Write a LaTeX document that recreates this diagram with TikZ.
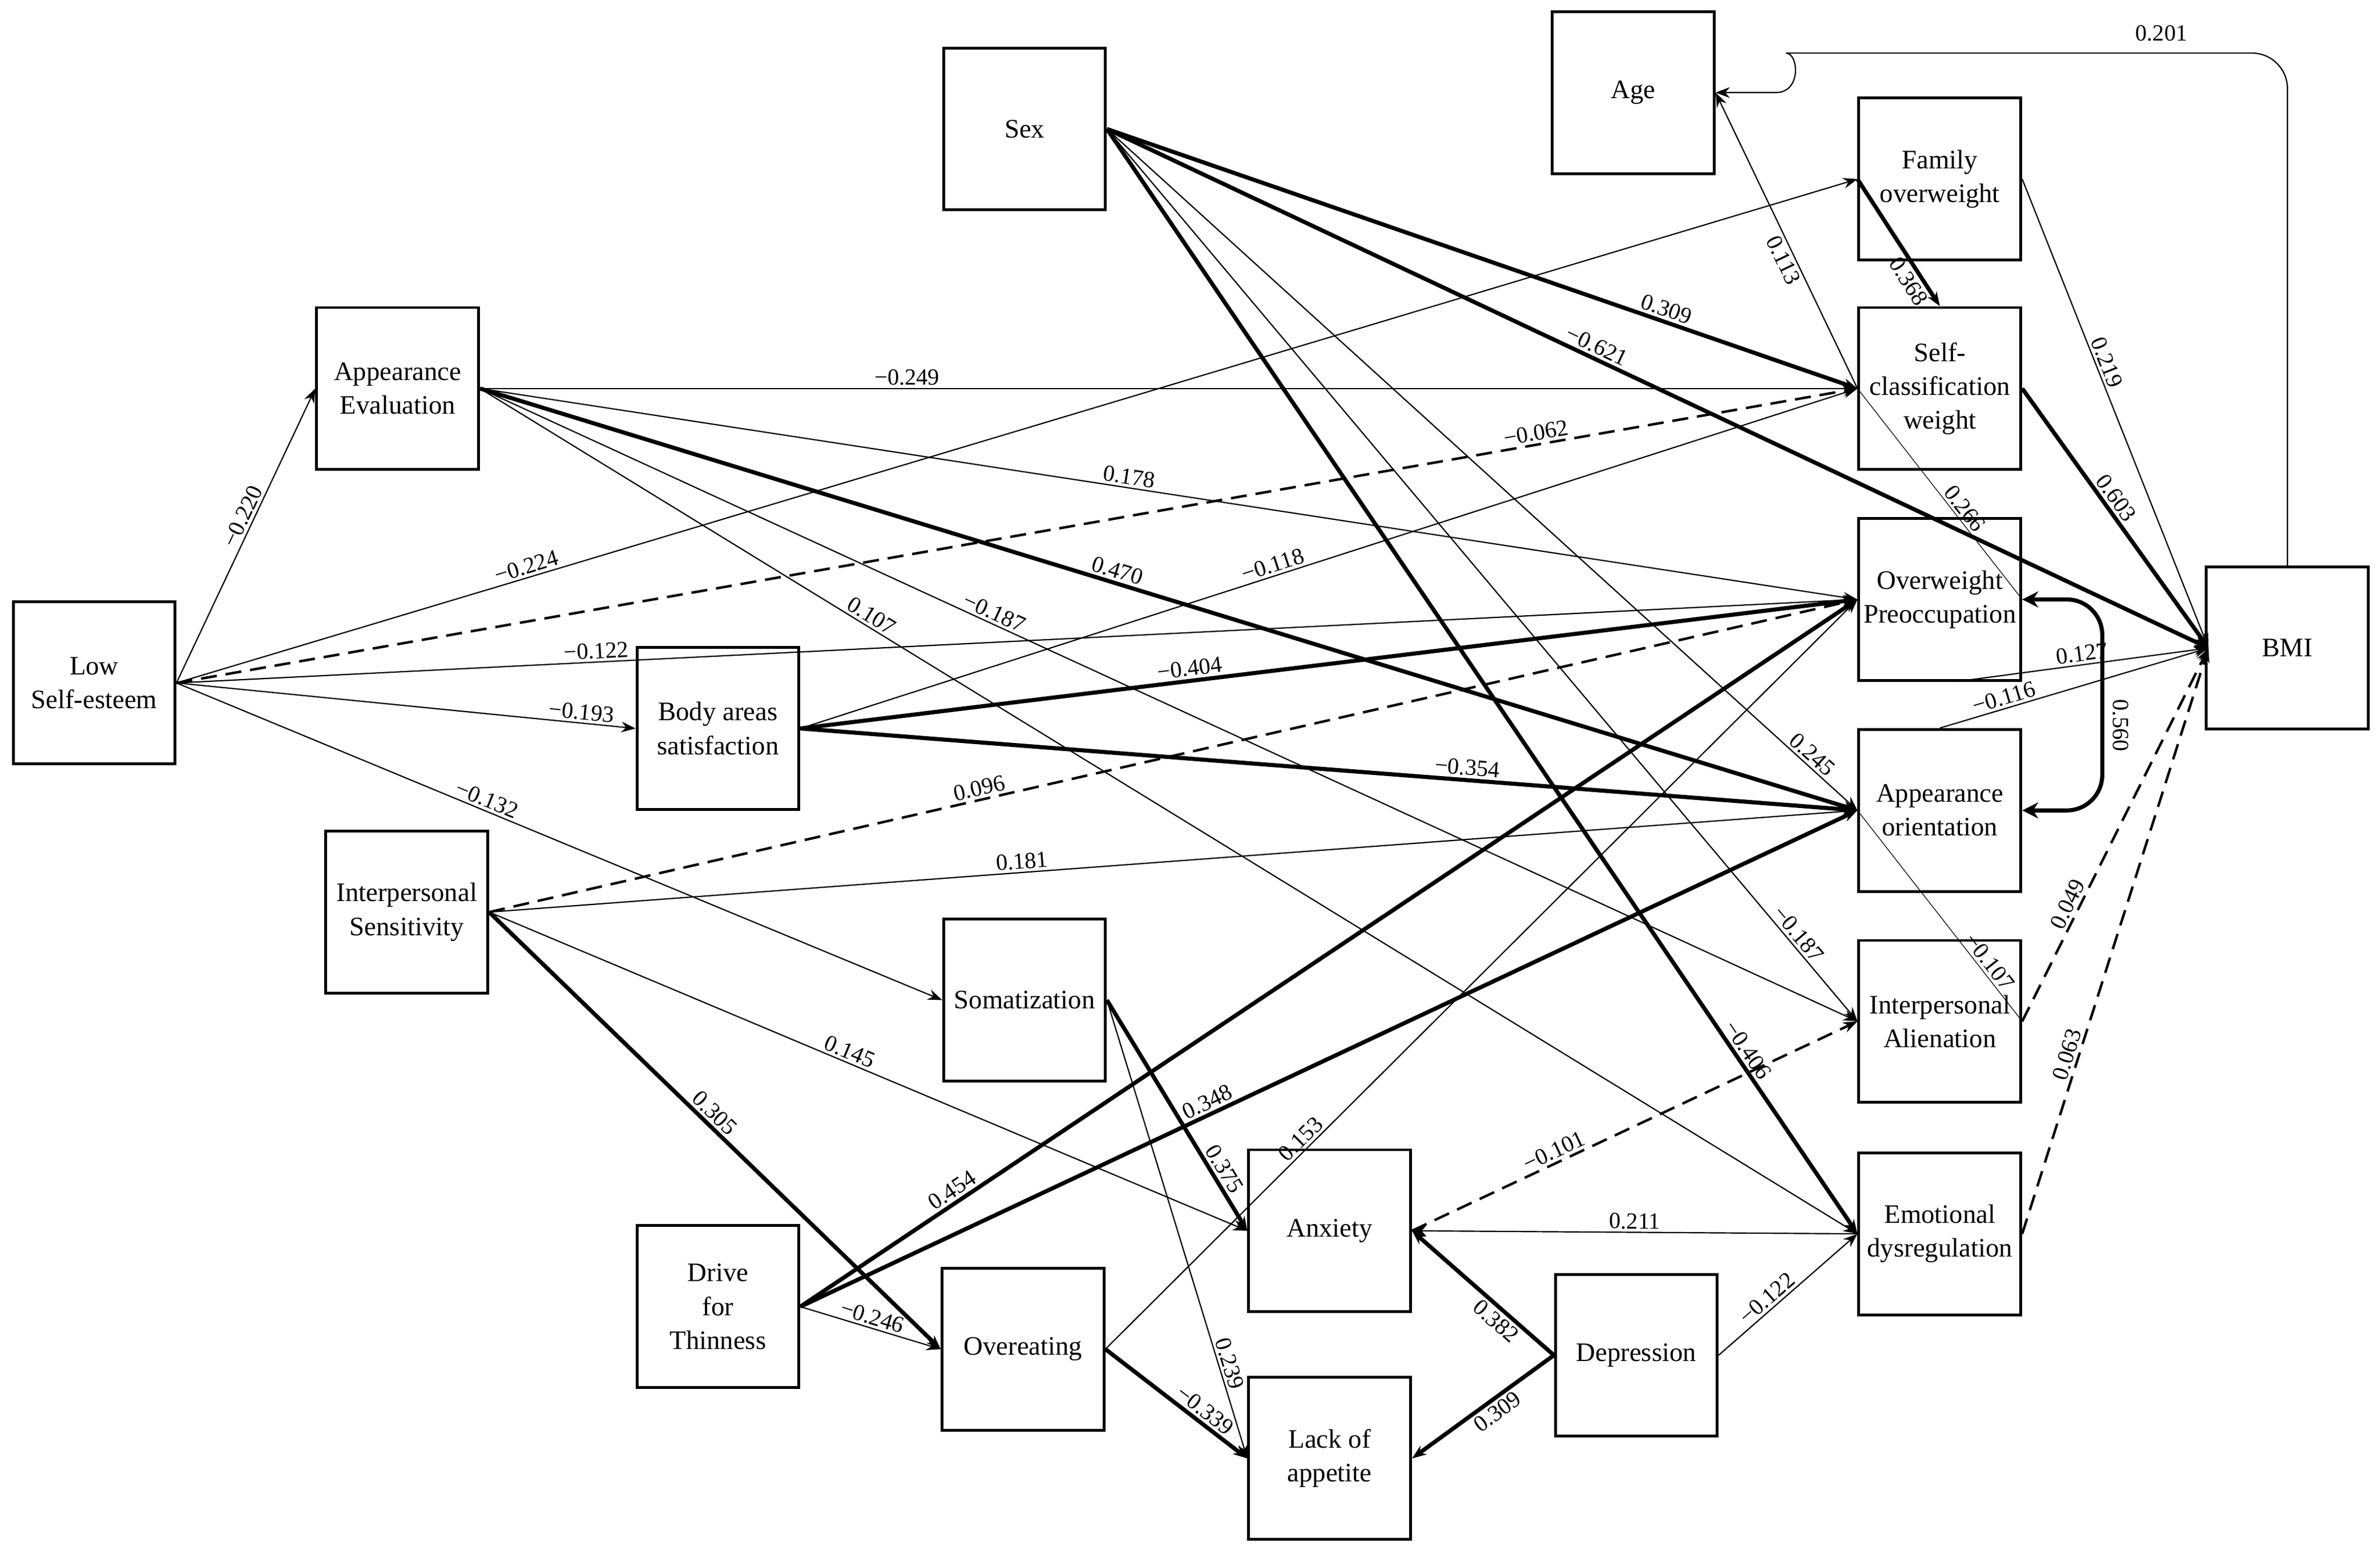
\documentclass[tikz,border=0pt]{standalone}
\usepackage{fontspec}
\setmainfont{Liberation Serif}
\usetikzlibrary{arrows.meta}
\begin{document}
\begin{tikzpicture}[x=0.03cm,y=-0.03cm,
box/.style={draw,line width=1.6pt,minimum width=3.2cm,minimum height=3.2cm,align=center,font=\fontsize{15}{19}\selectfont,inner sep=2pt},
e/.style={-{Stealth[length=8pt,width=6pt]},line width=0.7pt},
th/.style={line width=2.3pt},
da/.style={dash pattern=on 9pt off 5pt,line width=1.4pt},
lab/.style={sloped,above,font=\fontsize{13}{15}\selectfont,inner sep=1.5pt}]
\useasboundingbox (0,0) rectangle (1568,1022);
\node[box] (lse) at (62,450) {Low\\Self-esteem};
\node[box] (ae) at (262,256) {Appearance\\Evaluation};
\node[box] (bas) at (473,480) {Body areas\\satisfaction};
\node[box] (is) at (268,601) {Interpersonal\\Sensitivity};
\node[box] (som) at (675,659) {Somatization};
\node[box] (dft) at (473,861) {Drive\\for\\Thinness};
\node[box] (ove) at (674,889) {Overeating};
\node[box] (anx) at (876,811) {Anxiety};
\node[box] (loa) at (876,961) {Lack of\\appetite};
\node[box] (dep) at (1078,893) {Depression};
\node[box] (sex) at (675,85) {Sex};
\node[box] (age) at (1076,61) {Age};
\node[box] (fo) at (1278,118) {Family\\overweight};
\node[box] (scw) at (1278,256) {Self-\\classification\\weight};
\node[box] (op) at (1278,395) {Overweight\\Preoccupation};
\node[box] (ao) at (1278,534) {Appearance\\orientation};
\node[box] (ia) at (1278,673) {Interpersonal\\Alienation};
\node[box] (ed) at (1278,813) {Emotional\\dysregulation};
\node[box] (bmi) at (1507,427) {BMI};
\coordinate (opb) at (1290,449);
\coordinate (bmiw) at (1455,427);
% Low self-esteem
\draw[e] (lse.east) -- node[lab,pos=0.55]{−0.220} (ae.west);
\draw[e] (lse.east) -- node[lab,pos=0.21]{−0.224} (fo.west);
\draw[e,da] (lse.east) -- node[lab,pos=0.81]{−0.062} (scw.west);
\draw[e] (lse.east) -- node[lab,pos=0.25]{−0.122} (op.west);
\draw[e] (lse.east) -- node[lab,pos=0.88]{−0.193} (bas.west);
\draw[e] (lse.east) -- node[lab,pos=0.40]{−0.132} (som.west);
% Appearance evaluation
\draw[e] (ae.east) -- node[lab,pos=0.31]{−0.249} (scw.west);
\draw[e] (ae.east) -- node[lab,pos=0.47]{0.178} (op.west);
\draw[e,th] (ae.east) -- node[lab,pos=0.46]{0.470} (ao.west);
\draw[e] (ae.east) -- node[lab,pos=0.37]{−0.187} (ia.west);
\draw[e] (ae.east) -- node[lab,pos=0.28]{0.107} (ed.west);
% Body areas satisfaction
\draw[e] (bas.east) -- node[lab,pos=0.45]{−0.118} (scw.west);
\draw[e,th] (bas.east) -- node[lab,pos=0.37]{−0.404} (op.west);
\draw[e,th] (bas.east) -- node[lab,pos=0.63]{−0.354} (ao.west);
% Interpersonal sensitivity
\draw[e,da] (is.east) -- node[lab,pos=0.36]{0.096} (op.west);
\draw[e] (is.east) -- node[lab,pos=0.39]{0.181} (ao.west);
\draw[e] (is.east) -- node[lab,pos=0.47]{0.145} (anx.west);
\draw[e,th] (is.east) -- node[lab,pos=0.48]{0.305} (ove.west);
% Somatization
\draw[e,th] (som.east) -- node[lab,pos=0.76]{0.375} (anx.west);
\draw[e] (som.east) -- node[lab,pos=0.80]{0.239} (loa.west);
% Drive for thinness
\draw[e,th] (dft.east) -- node[lab,pos=0.15]{0.454} (op.west);
\draw[e,th] (dft.east) -- node[lab,pos=0.39]{0.348} (ao.west);
\draw[e] (dft.east) -- node[lab,pos=0.49]{−0.246} (ove.west);
% Overeating
\draw[e] (ove.east) -- node[lab,pos=0.27]{0.153} (op.west);
\draw[e,th] (ove.east) -- node[lab,pos=0.65]{−0.339} (loa.west);
% Depression
\draw[e,th] (dep.west) -- node[lab,pos=0.35,below]{0.382} (anx.east);
\draw[e,th] (dep.west) -- node[lab,pos=0.45,below]{0.309} (loa.east);
\draw[e] (dep.east) -- node[lab,pos=0.4]{−0.122} (ed.west);
% Emotional dysregulation / anxiety
\draw[e] (ed.west) -- node[lab,pos=0.5]{0.211} (anx.east);
\draw[e,da] (anx.east) -- node[lab,pos=0.33]{−0.101} (ia.west);
% Sex
\draw[e,th] (sex.east) -- node[lab,pos=0.74]{0.309} (scw.west);
\draw[e,th] (sex.east) -- node[lab,pos=0.44]{−0.621} (bmiw);
\draw[e] (sex.east) -- node[lab,pos=0.93]{0.245} (ao.west);
\draw[e] (sex.east) -- node[lab,pos=0.91]{−0.187} (ia.west);
\draw[e,th] (sex.east) -- node[lab,pos=0.84]{−0.406} (ed.west);
% right block
\draw[e,th] (fo.west) -- node[lab,pos=0.75,below]{0.368} (scw.north);
\draw[e] (fo.east) -- node[lab,pos=0.4]{0.219} (bmiw);
\draw[e,th] (scw.east) -- node[lab,pos=0.45]{0.603} (bmiw);
\draw[e] (scw.west) -- node[lab,pos=0.45,below]{0.113} (age.east);
\draw (scw.west) -- node[lab,pos=0.6]{0.266} (op.east);
\draw (ao.west) -- node[lab,pos=0.75]{−0.107} (ia.east);
\draw[e] (opb) -- node[lab,pos=0.5]{0.127} (bmiw);
\draw[e] (ao.north) -- node[lab,pos=0.25]{−0.116} (bmiw);
\draw[e,da] (ia.east) -- node[lab,pos=0.3]{0.049} (bmiw);
\draw[e,da] (ed.east) -- node[lab,pos=0.3]{0.063} (bmiw);
\draw[th,{Stealth[length=9pt,width=9pt]}-{Stealth[length=9pt,width=9pt]},rounded corners=0.7cm] (op.east) -- (1385,395) -- (1385,534) -- (ao.east);
\node[font=\fontsize{13}{15}\selectfont,rotate=-90] (lab560) at (1397,478) {0.560};
\draw[e] (bmi.north) [rounded corners=0.7cm] -- (1507,35) -- (1200,35) [sharp corners] .. controls (1185,35) and (1187,61) .. (1170,61) -- (age.east);
\node[font=\fontsize{13}{15}\selectfont] (lab201) at (1424,22) {0.201};
\end{tikzpicture}
\end{document}
